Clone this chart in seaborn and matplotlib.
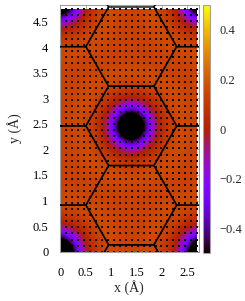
import numpy as np
import matplotlib
matplotlib.use("Agg")
import matplotlib.pyplot as plt
import seaborn as sns
import pandas as pd
from matplotlib.patches import Rectangle

# ---------------- data ----------------
# sample nodes of the field (Angstrom)
x_nodes = np.linspace(0.0, 2.80, 15)
y_nodes = np.linspace(0.0, 4.92, 25)

# field values, rows = y (bottom -> top), cols = x
field = np.array([
    [-1.30, -0.72, -0.20, 0.05, 0.12, 0.17, 0.14, 0.13, 0.14, 0.17, 0.12, 0.05, -0.20, -0.72, -1.30],
    [-0.72, -0.46, -0.10, 0.07, 0.13, 0.17, 0.14, 0.13, 0.14, 0.17, 0.13, 0.07, -0.10, -0.46, -0.72],
    [-0.20, -0.10, 0.02, 0.10, 0.16, 0.17, 0.13, 0.13, 0.13, 0.17, 0.16, 0.10, 0.02, -0.10, -0.20],
    [0.05, 0.07, 0.10, 0.14, 0.17, 0.15, 0.13, 0.13, 0.13, 0.15, 0.17, 0.14, 0.10, 0.07, 0.05],
    [0.12, 0.13, 0.16, 0.17, 0.16, 0.14, 0.13, 0.13, 0.13, 0.14, 0.16, 0.17, 0.16, 0.13, 0.12],
    [0.17, 0.17, 0.17, 0.15, 0.14, 0.13, 0.13, 0.13, 0.13, 0.13, 0.14, 0.15, 0.17, 0.17, 0.17],
    [0.14, 0.14, 0.13, 0.13, 0.13, 0.13, 0.14, 0.14, 0.14, 0.13, 0.13, 0.13, 0.13, 0.14, 0.14],
    [0.13, 0.13, 0.13, 0.14, 0.15, 0.17, 0.17, 0.17, 0.17, 0.17, 0.15, 0.14, 0.13, 0.13, 0.13],
    [0.13, 0.13, 0.14, 0.16, 0.17, 0.16, 0.13, 0.12, 0.13, 0.16, 0.17, 0.16, 0.14, 0.13, 0.13],
    [0.13, 0.13, 0.15, 0.17, 0.14, 0.10, 0.07, 0.05, 0.07, 0.10, 0.14, 0.17, 0.15, 0.13, 0.13],
    [0.13, 0.13, 0.17, 0.16, 0.10, 0.02, -0.10, -0.20, -0.10, 0.02, 0.10, 0.16, 0.17, 0.13, 0.13],
    [0.13, 0.14, 0.17, 0.13, 0.07, -0.10, -0.46, -0.72, -0.46, -0.10, 0.07, 0.13, 0.17, 0.14, 0.13],
    [0.13, 0.14, 0.17, 0.12, 0.05, -0.20, -0.72, -1.30, -0.72, -0.20, 0.05, 0.12, 0.17, 0.14, 0.13],
    [0.13, 0.14, 0.17, 0.13, 0.07, -0.10, -0.46, -0.72, -0.46, -0.10, 0.07, 0.13, 0.17, 0.14, 0.13],
    [0.13, 0.13, 0.17, 0.16, 0.10, 0.02, -0.10, -0.20, -0.10, 0.02, 0.10, 0.16, 0.17, 0.13, 0.13],
    [0.13, 0.13, 0.15, 0.17, 0.14, 0.10, 0.07, 0.05, 0.07, 0.10, 0.14, 0.17, 0.15, 0.13, 0.13],
    [0.13, 0.13, 0.14, 0.16, 0.17, 0.16, 0.13, 0.12, 0.13, 0.16, 0.17, 0.16, 0.14, 0.13, 0.13],
    [0.13, 0.13, 0.13, 0.14, 0.15, 0.17, 0.17, 0.17, 0.17, 0.17, 0.15, 0.14, 0.13, 0.13, 0.13],
    [0.14, 0.14, 0.13, 0.13, 0.13, 0.13, 0.14, 0.14, 0.14, 0.13, 0.13, 0.13, 0.13, 0.14, 0.14],
    [0.17, 0.17, 0.17, 0.15, 0.14, 0.13, 0.13, 0.13, 0.13, 0.13, 0.14, 0.15, 0.17, 0.17, 0.17],
    [0.12, 0.13, 0.16, 0.17, 0.16, 0.14, 0.13, 0.13, 0.13, 0.14, 0.16, 0.17, 0.16, 0.13, 0.12],
    [0.05, 0.07, 0.10, 0.14, 0.17, 0.15, 0.13, 0.13, 0.13, 0.15, 0.17, 0.14, 0.10, 0.07, 0.05],
    [-0.20, -0.10, 0.02, 0.10, 0.16, 0.17, 0.13, 0.13, 0.13, 0.17, 0.16, 0.10, 0.02, -0.10, -0.20],
    [-0.72, -0.46, -0.10, 0.07, 0.13, 0.17, 0.14, 0.13, 0.14, 0.17, 0.13, 0.07, -0.10, -0.46, -0.72],
    [-1.30, -0.72, -0.20, 0.05, 0.12, 0.17, 0.14, 0.13, 0.14, 0.17, 0.12, 0.05, -0.20, -0.72, -1.30],
])

# extent of the sampled map actually shown
map_xmax = 2.70
map_ymax = 4.75

# sampling grid shown as dots
dot_x = np.linspace(0.0, 2.70, 24)
dot_y = np.linspace(0.0, 4.75, 41)

# honeycomb overlay
hex_side = 0.895
hex_cx = [1.40, 1.40, 1.40, 1.40, 0.0575, 0.0575, 0.0575, 0.0575, 2.7425, 2.7425, 2.7425, 2.7425]
hex_cy = [-0.64, 0.91, 2.46, 4.01, 0.135, 1.685, 3.235, 4.785, 0.135, 1.685, 3.235, 4.785]

x_ticks = [0, 0.5, 1, 1.5, 2, 2.5]
y_ticks = [0, 0.5, 1, 1.5, 2, 2.5, 3, 3.5, 4, 4.5]
cb_ticks = [-0.4, -0.2, 0, 0.2, 0.4]
cb_labels = ["\u22120.4", "\u22120.2", "0", "0.2", "0.4"]
vmin, vmax = -0.5, 0.5

# ---------------- style ----------------
sns.set_style("ticks")
plt.rcParams["font.family"] = ["Liberation Serif", "DejaVu Serif"]
plt.rcParams["font.size"] = 9
frame_col = "#a0a0a0"

fig = plt.figure(figsize=(2.45, 3.01), dpi=100)
ax = fig.add_axes([59.5 / 245, 1 - 251.7 / 301, (199 - 59.5) / 245, (251.7 - 4.7) / 301])
cax = fig.add_axes([203 / 245, 1 - 253 / 301, 7 / 245, (253 - 5) / 301])

dx = x_nodes[1] - x_nodes[0]
dy = y_nodes[1] - y_nodes[0]
im = ax.imshow(field, origin="lower", cmap="gnuplot", vmin=vmin, vmax=vmax,
               extent=[x_nodes[0] - dx / 2, x_nodes[-1] + dx / 2,
                       y_nodes[0] - dy / 2, y_nodes[-1] + dy / 2],
               interpolation="bicubic", interpolation_stage="data", aspect="auto", zorder=1)
clip = Rectangle((0, 0), map_xmax, map_ymax, transform=ax.transData)
im.set_clip_path(clip)

# sampling dots
gx, gy = np.meshgrid(dot_x, dot_y)
dots = pd.DataFrame({"x": gx.ravel(), "y": gy.ravel()})
sns.scatterplot(data=dots, x="x", y="y", marker="s", s=2.0, color="black",
                linewidth=0, ax=ax, zorder=2, legend=False)

# honeycomb lines
ang = np.deg2rad(np.arange(0, 361, 60))
for cx, cy in zip(hex_cx, hex_cy):
    ax.plot(cx + hex_side * np.cos(ang), cy + hex_side * np.sin(ang),
            color="black", lw=1.0, zorder=3, solid_joinstyle="miter")

ax.set_xlim(-0.016, 2.736)
ax.set_ylim(0.0, 4.83)
ax.set_xticks(x_ticks)
ax.set_xticklabels([f"{t:g}" for t in x_ticks])
ax.set_yticks(y_ticks)
ax.set_yticklabels([f"{t:g}" for t in y_ticks])
ax.tick_params(direction="in", length=3, width=0.6, color=frame_col,
               top=True, right=True, labelsize=9, labelcolor="black")
ax.tick_params(axis="x", pad=11)
ax.tick_params(axis="y", pad=8)
for s in ax.spines.values():
    s.set_color(frame_col)
    s.set_linewidth(0.8)
ax.set_xlabel("x (\u00c5)", fontsize=10, labelpad=1)
ax.set_ylabel("y (\u00c5)", fontsize=10, labelpad=8)

cb = fig.colorbar(im, cax=cax)
cb.set_ticks(cb_ticks)
cb.set_ticklabels(cb_labels)
cb.outline.set_edgecolor(frame_col)
cb.outline.set_linewidth(0.8)
cax.tick_params(direction="in", length=2, width=0.6, color="#555555",
                labelsize=9, pad=7, right=True, left=False)

fig.savefig("out.png", dpi=100)
